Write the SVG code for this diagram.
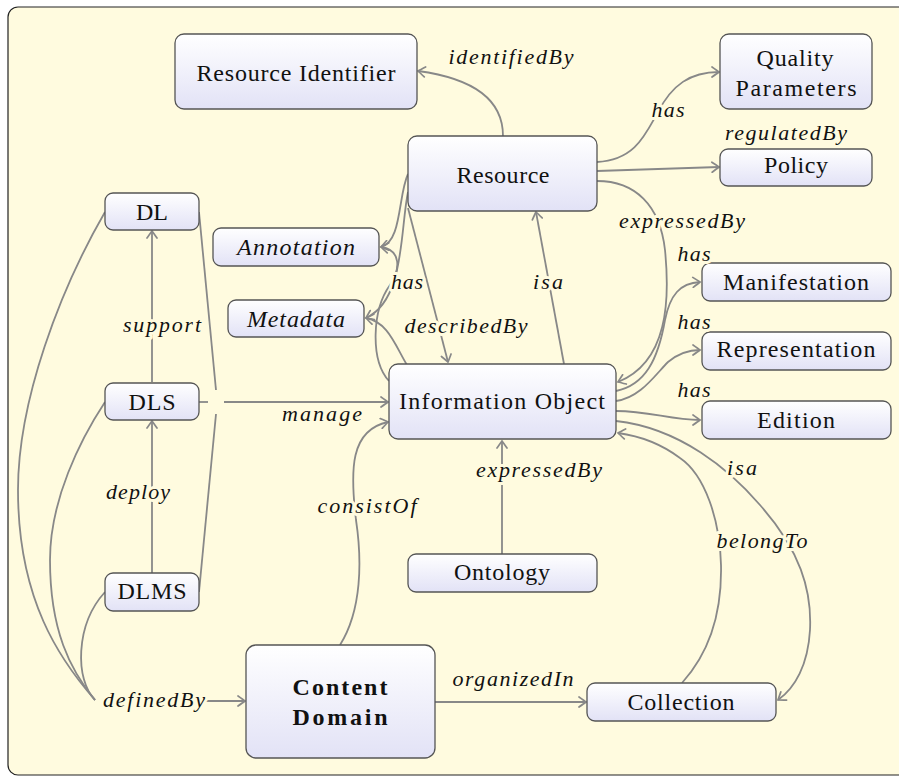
<svg xmlns="http://www.w3.org/2000/svg" width="899" height="777" viewBox="0 0 899 777">
<defs>
<linearGradient id="g" x1="0" y1="0" x2="0" y2="1">
<stop offset="0" stop-color="#ffffff"/>
<stop offset="1" stop-color="#e2e2f6"/>
</linearGradient>
<marker id="arr" viewBox="-9 -6 11 12" refX="0" refY="0" markerWidth="11" markerHeight="12" orient="auto" markerUnits="userSpaceOnUse">
<path d="M-7,-5 Q-2,-1.5 0,0 Q-2,1.5 -7,5" fill="none" stroke="#888" stroke-width="1.7" stroke-linecap="round"/>
</marker>
<style>
.box{fill:url(#g);stroke:#555;stroke-width:1.3}
.t{font-family:'Liberation Serif',serif;font-size:24px;fill:#111;text-anchor:middle}
.b{font-weight:bold}
.i{font-style:italic}
.l{font-family:'Liberation Serif',serif;font-style:italic;font-size:22px;fill:#111;text-anchor:middle;paint-order:stroke;stroke:#fffbdf;stroke-width:6;stroke-linejoin:round}
.e{fill:none;stroke:#888;stroke-width:1.8}
.a{marker-end:url(#arr)}
</style>
</defs>
<rect x="8" y="7" width="920" height="768" rx="10" fill="#fffbdf" stroke="#222" stroke-width="1.2"/>

<g id="connectors">
<path class="e a" d="M503,136 C503,98 470,78 418,71"/>
<path class="e a" d="M597,162 C635,160 645,135 658,112 C672,85 690,72 719,72"/>
<path class="e a" d="M597,171 L719,167"/>
<path class="e a" d="M597,181 C635,181 660,205 665,250 C670,300 668,362 618,382"/>
<path class="e a" d="M564,364 L536,212"/>
<path class="e a" d="M408,208 L448,362"/>
<path class="e a" d="M408,174 C398,195 402,242 381,247"/>
<path class="e a" d="M408,192 C400,230 405,300 366,318"/>
<path class="e a" d="M389,381 C370,360 372,310 390,285 C400,270 402,250 381,247"/>
<path class="e a" d="M407,365 C395,345 388,322 366,318"/>
<path class="e a" d="M152,382 L152,231"/>
<path class="e a" d="M152,573 L152,421"/>
<path class="e" d="M199,212 L216,390"/>
<path class="e" d="M199,592 L216,414"/>
<path class="e" d="M199,402 L208,402"/>
<path class="e a" d="M224,402 L388,402"/>
<path class="e" d="M105,212 C60,290 18,400 18,490 C18,600 60,660 95,700"/>
<path class="e" d="M105,402 C80,440 50,500 50,560 C50,630 70,670 95,700"/>
<path class="e" d="M105,592 C75,625 75,680 95,700"/>
<path class="e a" d="M206,701 L245,701"/>
<path class="e a" d="M340,645 C362,610 362,560 356,520 C350,470 350,430 388,422"/>
<path class="e a" d="M502,554 L502,441"/>
<path class="e a" d="M435,702 L586,702"/>
<path class="e a" d="M616,391 C645,385 658,360 665,320 C670,295 680,283 700,282"/>
<path class="e a" d="M616,401 C640,398 655,375 668,362 C680,352 690,350 700,350"/>
<path class="e a" d="M616,411 C650,411 670,420 700,420"/>
<path class="e a" d="M616,421 C680,428 730,470 760,505 C800,550 812,590 810,630 C808,665 795,688 778,700"/>
<path class="e a" d="M682,683 C712,650 722,610 721,565 C720,520 705,475 680,458 C660,443 640,436 618,433"/>
</g>

<g id="node-resource-identifier"><rect class="box" x="175" y="34" width="242" height="75" rx="9"/><text class="t" x="296" y="81" textLength="199">Resource Identifier</text></g>
<g id="node-resource"><rect class="box" x="408" y="136" width="189" height="75" rx="9"/><text class="t" x="503" y="183" textLength="93">Resource</text></g>
<g id="node-quality-parameters"><rect class="box" x="720" y="34" width="152" height="75" rx="9"/><text class="t" x="795" y="66" textLength="77">Quality</text><text class="t" x="796" y="96" textLength="121">Parameters</text></g>
<g id="node-policy"><rect class="box" x="720" y="149" width="152" height="37" rx="8"/><text class="t" x="796" y="173" textLength="64">Policy</text></g>
<g id="node-dl"><rect class="box" x="105" y="193" width="94" height="37" rx="8"/><text class="t" x="152" y="220" textLength="32">DL</text></g>
<g id="node-annotation"><rect class="box" x="213" y="228" width="166" height="38" rx="8"/><text class="t i" x="296" y="255" textLength="118">Annotation</text></g>
<g id="node-metadata"><rect class="box" x="228" y="300" width="136" height="37" rx="8"/><text class="t i" x="296" y="327" textLength="98">Metadata</text></g>
<g id="node-dls"><rect class="box" x="105" y="383" width="94" height="37" rx="8"/><text class="t" x="152" y="410" textLength="47">DLS</text></g>
<g id="node-information-object"><rect class="box" x="389" y="364" width="227" height="75" rx="9"/><text class="t" x="502" y="409" textLength="206">Information Object</text></g>
<g id="node-manifestation"><rect class="box" x="702" y="263" width="189" height="38" rx="8"/><text class="t" x="796" y="290" textLength="146">Manifestation</text></g>
<g id="node-representation"><rect class="box" x="702" y="332" width="189" height="38" rx="8"/><text class="t" x="796" y="357" textLength="159">Representation</text></g>
<g id="node-edition"><rect class="box" x="702" y="401" width="189" height="38" rx="8"/><text class="t" x="796" y="428" textLength="78">Edition</text></g>
<g id="node-ontology"><rect class="box" x="408" y="554" width="189" height="38" rx="8"/><text class="t" x="502" y="580" textLength="96">Ontology</text></g>
<g id="node-dlms"><rect class="box" x="105" y="573" width="94" height="38" rx="8"/><text class="t" x="152" y="599" textLength="69">DLMS</text></g>
<g id="node-content-domain"><rect class="box" x="246" y="645" width="189" height="113" rx="10"/><text class="t b" x="340" y="695" textLength="95">Content</text><text class="t b" x="340" y="725" textLength="95">Domain</text></g>
<g id="node-collection"><rect class="box" x="587" y="683" width="189" height="38" rx="8"/><text class="t" x="681" y="710" textLength="107">Collection</text></g>

<g id="labels">
<text class="l" x="511" y="64" textLength="125">identifiedBy</text>
<text class="l" x="668" y="117" textLength="33">has</text>
<text class="l" x="786" y="140" textLength="122">regulatedBy</text>
<text class="l" x="682" y="228" textLength="126">expressedBy</text>
<text class="l" x="694" y="261" textLength="33">has</text>
<text class="l" x="694" y="329" textLength="33">has</text>
<text class="l" x="694" y="397" textLength="33">has</text>
<text class="l" x="548" y="289" textLength="30">isa</text>
<text class="l" x="466" y="333" textLength="123">describedBy</text>
<text class="l" x="407" y="289" textLength="32">has</text>
<text class="l" x="162" y="332" textLength="78">support</text>
<text class="l" x="322" y="421" textLength="80">manage</text>
<text class="l" x="138" y="499" textLength="64">deploy</text>
<text class="l" x="367" y="513" textLength="99">consistOf</text>
<text class="l" x="154" y="707" textLength="102">definedBy</text>
<text class="l" x="539" y="477" textLength="126">expressedBy</text>
<text class="l" x="742" y="475" textLength="30">isa</text>
<text class="l" x="762" y="548" textLength="91">belongTo</text>
<text class="l" x="513" y="686" textLength="121">organizedIn</text>
</g>
</svg>
